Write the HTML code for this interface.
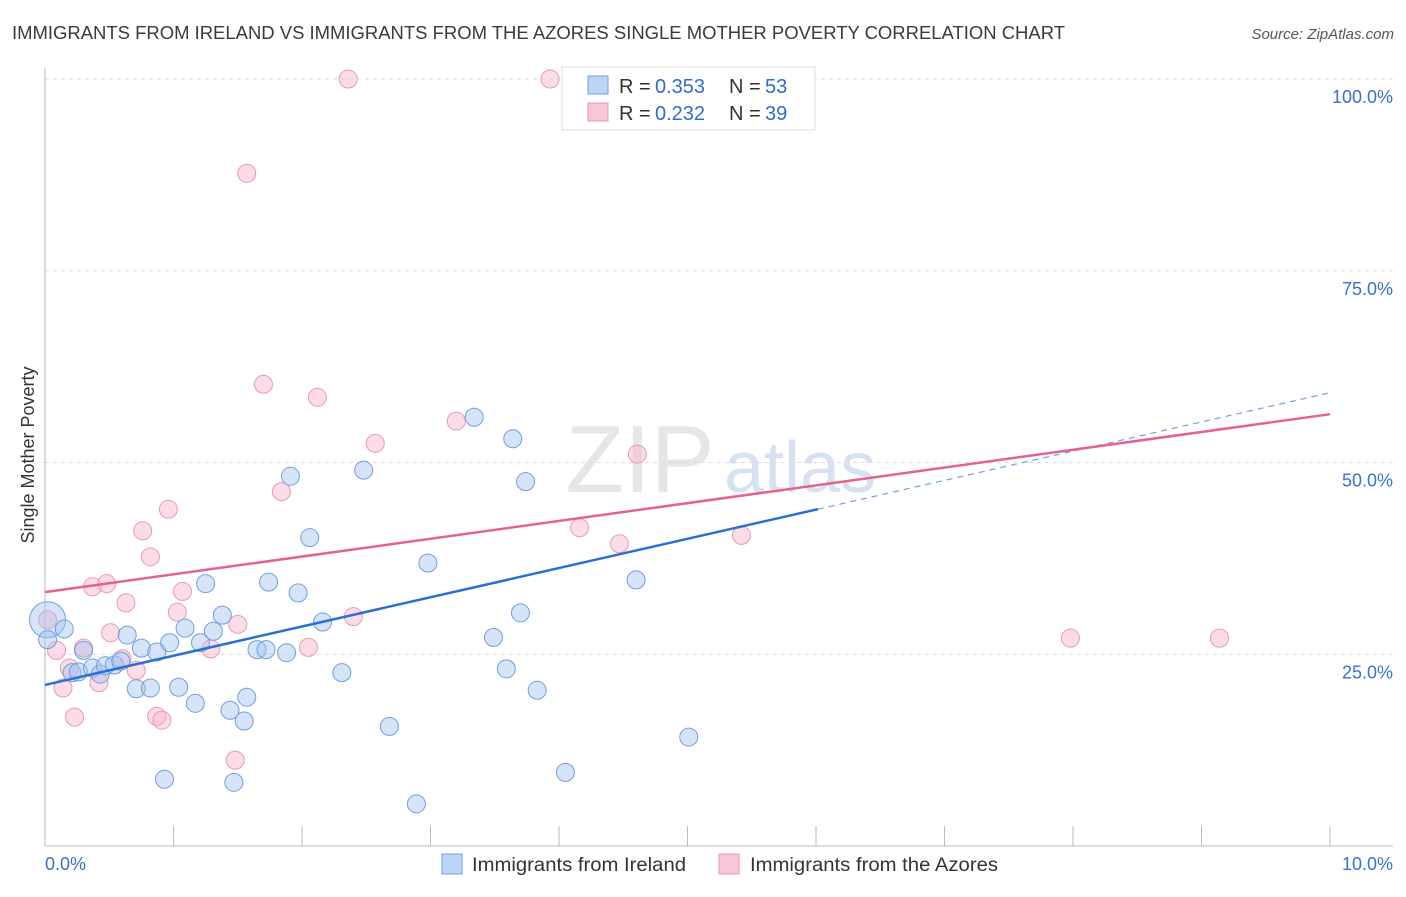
<!DOCTYPE html>
<html><head><meta charset="utf-8"><style>
body{margin:0;background:#fff;font-family:"Liberation Sans",sans-serif;}
svg text{font-family:"Liberation Sans",sans-serif;}
</style></head><body>
<svg id="chart" width="1406" height="892">
<text x="12" y="39" font-size="18" fill="#3a3a3a" textLength="1053" lengthAdjust="spacingAndGlyphs">IMMIGRANTS FROM IRELAND VS IMMIGRANTS FROM THE AZORES SINGLE MOTHER POVERTY CORRELATION CHART</text>
<text x="1394" y="39" font-size="15" fill="#555" font-style="italic" text-anchor="end">Source: ZipAtlas.com</text>
<text x="34" y="455" font-size="18" fill="#333" text-anchor="middle" transform="rotate(-90 34 455)">Single Mother Poverty</text>
<text x="640" y="492" font-size="96" fill="#e6e6e6" font-family="Liberation Serif" text-anchor="middle">ZIP</text>
<text x="800" y="492" font-size="72" fill="#d6e2f2" text-anchor="middle">atlas</text>
<g id="grid"></g><g id="axes"></g><g id="pts"></g><g id="lines"></g>
<g>
<rect x="562" y="67" width="253" height="63" fill="#fff" stroke="#ddd"/>
<rect x="588" y="76" width="20" height="18" fill="#bcd4f5" stroke="#6f9fe0"/>
<rect x="588" y="103" width="20" height="18" fill="#f9c6d6" stroke="#e89ab2"/>
<text x="619" y="93" font-size="20" fill="#333">R =</text>
<text x="655" y="93" font-size="20" fill="#2f6bd6">0.353</text>
<text x="729" y="93" font-size="20" fill="#333">N =</text>
<text x="765" y="93" font-size="20" fill="#2f6bd6">53</text>
<text x="619" y="120" font-size="20" fill="#333">R =</text>
<text x="655" y="120" font-size="20" fill="#2f6bd6">0.232</text>
<text x="729" y="120" font-size="20" fill="#333">N =</text>
<text x="765" y="120" font-size="20" fill="#2f6bd6">39</text>
</g>
<g>
<rect x="442" y="854" width="20" height="20" fill="#bcd4f5" stroke="#6f9fe0"/>
<text x="472" y="871" font-size="19" fill="#333" textLength="214" lengthAdjust="spacingAndGlyphs">Immigrants from Ireland</text>
<rect x="719" y="854" width="20" height="20" fill="#f9c6d6" stroke="#e89ab2"/>
<text x="750" y="871" font-size="19" fill="#333" textLength="248" lengthAdjust="spacingAndGlyphs">Immigrants from the Azores</text>
</g>
</svg>
<script>
const yTicks=[25,50,75,100];
const yTickLabels=["25.0%","50.0%","75.0%","100.0%"];
const xTickLabels=["0.0%","10.0%"];
const blueX=[0.02,0.15,0.02,0.30,0.21,0.26,0.37,0.43,0.47,0.54,0.59,0.64,0.71,0.75,0.82,0.87,0.93,0.97,1.04,1.09,1.17,1.21,1.25,1.31,1.38,1.44,1.47,1.55,1.57,1.65,1.72,1.74,1.88,1.91,1.97,2.06,2.16,2.31,2.48,2.68,2.89,2.98,3.34,3.49,3.59,3.64,3.70,3.74,3.83,4.05,4.60,5.01,4.79];
const blueY=[29.5,28.3,26.9,25.5,22.6,22.7,23.2,22.4,23.5,23.6,24.1,27.5,20.5,25.8,20.6,25.3,8.7,26.5,20.7,28.4,18.6,26.5,34.2,28.0,30.1,17.7,8.3,16.3,19.4,25.6,25.6,34.4,25.2,48.2,33.0,40.2,29.2,22.6,49.0,15.6,5.5,36.9,55.9,27.2,23.1,53.1,30.4,47.5,20.3,9.6,34.7,14.2,100];
const pinkX=[0.02,0.09,0.37,0.48,0.23,0.14,0.19,0.30,0.42,0.51,0.60,0.63,0.71,0.76,0.82,0.87,0.91,0.96,1.03,1.07,1.29,1.48,1.50,1.57,1.70,1.84,2.05,2.12,2.36,2.40,2.57,3.20,3.93,4.16,4.47,4.61,5.42,7.98,9.14];
const pinkY=[29.5,25.5,33.8,34.2,16.8,20.6,23.2,25.8,21.3,27.8,24.4,31.7,22.9,41.1,37.7,16.9,16.4,43.9,30.5,33.2,25.7,11.2,28.9,87.7,60.2,46.2,25.9,58.5,100,29.9,52.5,55.4,100,41.5,39.4,51.1,40.5,27.1,27.1];
const blueTrend=[21.0,59.1];
const pinkTrend=[33.1,56.3];
const blueSolidEnd=6.015;
const NS="http://www.w3.org/2000/svg";
const X=v=>45+v*128.5, Y=v=>846-v*7.67;
function mk(t,a,p){const e=document.createElementNS(NS,t);for(const k in a)e.setAttribute(k,a[k]);p.appendChild(e);return e;}
const grid=document.getElementById('grid'),axes=document.getElementById('axes'),pts=document.getElementById('pts'),lines=document.getElementById('lines');
yTicks.forEach((t,i)=>{
 const l=mk('line',{x1:45,x2:1393,y1:Y(t),y2:Y(t),stroke:'#ddd','stroke-dasharray':'4,4'},grid);
 
 
 const tx=mk('text',{x:1393,y:Y(t)+24,'font-size':18,fill:'#3a70d0','text-anchor':'end'},axes);
 tx.textContent=yTickLabels[i];
 
 
});
const ya=mk('line',{x1:45,x2:45,y1:68,y2:846,stroke:'#bbb'},axes);


const xa=mk('line',{x1:45,x2:1393,y1:846,y2:846,stroke:'#bbb'},axes);


for(let k=1;k<=10;k++){
 const t=mk('line',{x1:X(k),x2:X(k),y1:826,y2:846,stroke:'#bbb'},axes);
 
 
}
[[0,45,'start'],[10,1393,'end']].forEach((d,i)=>{
 const t=mk('text',{x:d[1],y:870,'font-size':18,fill:'#3a70d0','text-anchor':d[2]},axes);
 t.textContent=xTickLabels[i];
 
 
});
pinkX.forEach((x,i)=>{
 const c=mk('circle',{cx:X(x),cy:Y(pinkY[i]),r:9,fill:'rgba(248,180,202,0.45)',stroke:'#e89ab2','stroke-width':1},pts);
 
 
});
blueX.forEach((x,i)=>{
 const c=mk('circle',{cx:X(x),cy:Y(blueY[i]),r:i==0?18:9,fill:'rgba(164,196,240,0.45)',stroke:'#6f9fe0','stroke-width':1},pts);
 
 
});
const by=x=>blueTrend[0]+(blueTrend[1]-blueTrend[0])*x/10;
const bl=mk('line',{x1:X(0),y1:Y(by(0)),x2:X(blueSolidEnd),y2:Y(by(blueSolidEnd)),stroke:'#2a6fd6','stroke-width':2.5},lines);


const bd=mk('line',{x1:X(blueSolidEnd),y1:Y(by(blueSolidEnd)),x2:X(10),y2:Y(by(10)),stroke:'#6f9fe0','stroke-width':1.2,'stroke-dasharray':'6,5'},lines);


const pl=mk('line',{x1:X(0),y1:Y(pinkTrend[0]),x2:X(10),y2:Y(pinkTrend[1]),stroke:'#e4638e','stroke-width':2.5},lines);


</script>
</body></html>
